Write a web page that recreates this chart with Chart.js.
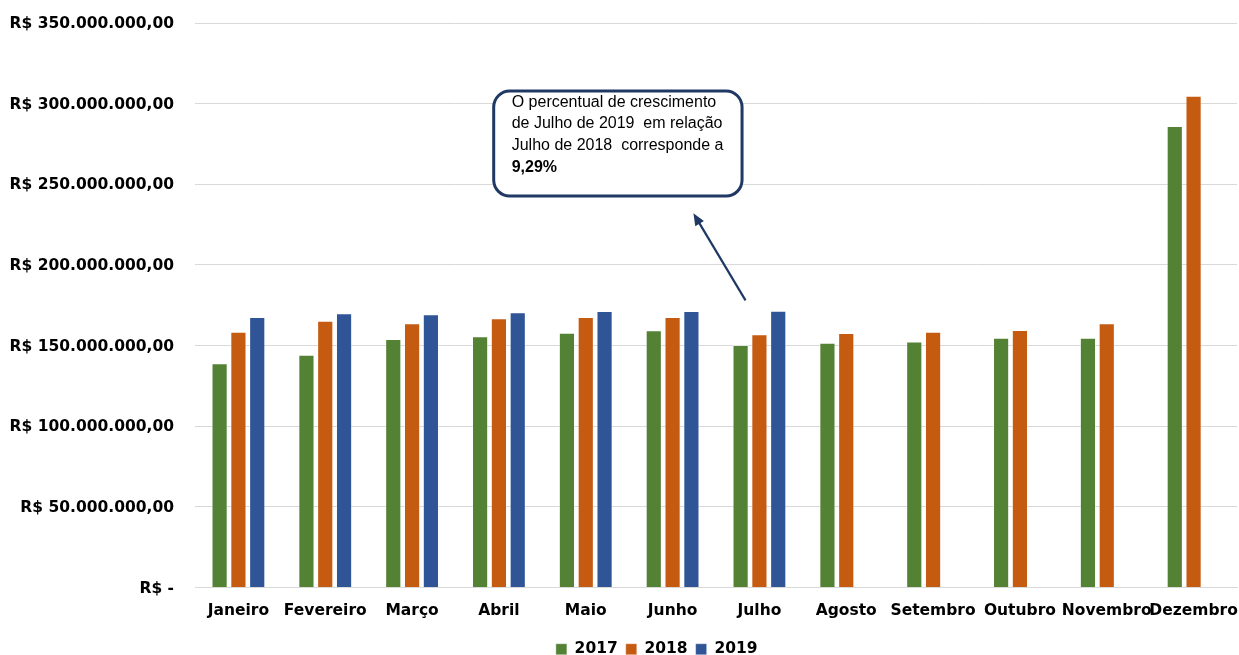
<!DOCTYPE html>
<html>
<head>
<meta charset="utf-8">
<script src="https://cdn.jsdelivr.net/npm/chart.js@4"></script>
<style>
  html, body { margin: 0; padding: 0; background: #fff; }
  #wrap { width: 1239px; height: 655px; }
</style>
</head>
<body>
<div id="wrap"><canvas id="c" width="1239" height="655"></canvas></div>
<script>
const categories = ["Janeiro","Fevereiro","Março","Abril","Maio","Junho","Julho","Agosto","Setembro","Outubro","Novembro","Dezembro"];
const values2017 = [139.0e6,144.3e6,154.1e6,155.8e6,158.0e6,159.5e6,150.4e6,151.8e6,152.6e6,154.9e6,154.9e6,286.1e6];
const values2018 = [158.6e6,165.4e6,163.8e6,166.9e6,167.7e6,167.7e6,157.0e6,157.8e6,158.6e6,159.7e6,163.8e6,304.9e6];
const values2019 = [167.7e6,170.0e6,169.4e6,170.6e6,171.4e6,171.4e6,171.6e6,null,null,null,null,null];
const yTicks = [0,50e6,100e6,150e6,200e6,250e6,300e6,350e6];
const tickLabels = ["R$ -","R$ 50.000.000,00","R$ 100.000.000,00","R$ 150.000.000,00","R$ 200.000.000,00","R$ 250.000.000,00","R$ 300.000.000,00","R$ 350.000.000,00"];
const noteLines = ["O percentual de crescimento","de Julho de 2019  em relação","Julho de 2018  corresponde a"];
const noteBold = "9,29%";

const annotationPlugin = {
  id: 'note',
  afterLayout(chart) {
    const lg = chart.legend;
    if (lg) {
      const shift = 0.44 * ((chart.chartArea.right - chart.chartArea.left) / 12);
      lg.left += shift; lg.right += shift;
    }
  },
  afterDatasetsDraw(chart) {
    const ctx = chart.ctx;
    const x = chart.scales.x, y = chart.scales.y;
    const step = x.getPixelForValue(1) - x.getPixelForValue(0);
    const jul = x.getPixelForValue(6);
    // arrow
    const tx = jul - 0.16 * step, ty = y.getPixelForValue(178e6);
    const hx = jul - 0.76 * step, hy = y.getPixelForValue(232e6);
    ctx.save();
    ctx.strokeStyle = '#1F3864';
    ctx.fillStyle = '#1F3864';
    ctx.lineWidth = 2.2;
    const ang = Math.atan2(hy - ty, hx - tx);
    ctx.beginPath();
    ctx.moveTo(tx, ty);
    ctx.lineTo(hx - 8 * Math.cos(ang), hy - 8 * Math.sin(ang));
    ctx.stroke();
    ctx.beginPath();
    ctx.moveTo(hx, hy);
    ctx.lineTo(hx - 12 * Math.cos(ang) + 5 * Math.sin(ang), hy - 12 * Math.sin(ang) - 5 * Math.cos(ang));
    ctx.lineTo(hx - 12 * Math.cos(ang) - 5 * Math.sin(ang), hy - 12 * Math.sin(ang) + 5 * Math.cos(ang));
    ctx.closePath();
    ctx.fill();
    // box
    const bx1 = x.getPixelForValue(2.94), bx2 = x.getPixelForValue(5.80);
    const by1 = y.getPixelForValue(307.8e6), by2 = y.getPixelForValue(242.7e6);
    ctx.lineWidth = 3;
    ctx.strokeStyle = '#203864';
    ctx.fillStyle = '#ffffff';
    ctx.beginPath();
    ctx.roundRect(bx1, by1, bx2 - bx1, by2 - by1, 16);
    ctx.fill();
    ctx.stroke();
    ctx.fillStyle = '#000';
    ctx.textBaseline = 'alphabetic';
    ctx.textAlign = 'left';
    ctx.font = '16px "Liberation Sans", sans-serif';
    const lx = bx1 + 18;
    const ly0 = by1 + 15.5;
    noteLines.forEach((t, i) => ctx.fillText(t, lx, ly0 + i * 21.7));
    ctx.font = 'bold 16px "Liberation Sans", sans-serif';
    ctx.fillText(noteBold, lx, ly0 + 3 * 21.7);
    ctx.restore();
  }
};

const mk = (label, data, color) => ({
  label, data,
  backgroundColor: color,
  borderColor: 'rgba(255,255,255,0.35)',
  borderWidth: 1,
  categoryPercentage: 0.65,
  barPercentage: 0.86
});

new Chart(document.getElementById('c'), {
  type: 'bar',
  data: {
    labels: categories,
    datasets: [
      mk('2017', values2017, '#548235'),
      mk('2018', values2018, '#C55A11'),
      mk('2019', values2019, '#2F5597')
    ]
  },
  options: {
    responsive: false,
    animation: false,
    devicePixelRatio: 1,
    layout: { padding: { top: 23, right: 2, left: 0, bottom: -12 } },
    plugins: {
      tooltip: { enabled: false },
      legend: {
        position: 'bottom',
        labels: {
          boxWidth: 11, boxHeight: 11, padding: 8,
          color: '#000',
          font: { family: '"DejaVu Sans", sans-serif', weight: 'bold', size: 15.5 }
        }
      }
    },
    scales: {
      x: {
        grid: { display: false, drawTicks: false },
        border: { display: true, color: '#d9d9d9', width: 1 },
        ticks: {
          color: '#000', padding: 14, maxRotation: 0, autoSkip: false,
          font: { family: '"DejaVu Sans", sans-serif', weight: 'bold', size: 15.5 }
        },
        afterFit(s) { s.height = 46; s.paddingLeft = 0; s.paddingRight = 0; }
      },
      y: {
        min: 0, max: 350e6,
        afterBuildTicks(s) { s.ticks = yTicks.map(v => ({ value: v })); },
        grid: { color: '#d9d9d9', drawTicks: false, lineWidth: 1 },
        border: { display: false },
        ticks: {
          color: '#000', padding: 21, labelOffset: 1,
          font: { family: '"DejaVu Sans", sans-serif', weight: 'bold', size: 15.5 },
          callback(v) { const i = yTicks.indexOf(v); return i >= 0 ? tickLabels[i] : ''; }
        },
        afterFit(s) { s.width = 195; s.paddingTop = 0; s.paddingBottom = 0; }
      }
    }
  },
  plugins: [annotationPlugin]
});
</script>
</body>
</html>
